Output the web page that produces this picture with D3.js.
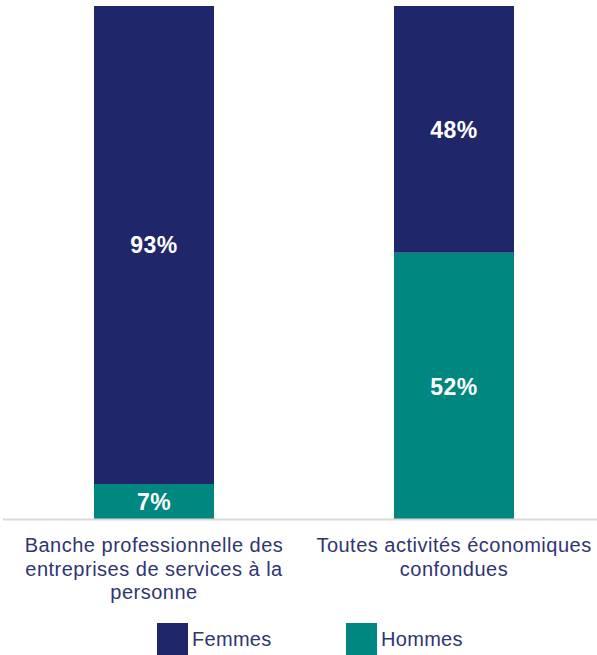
<!DOCTYPE html>
<html lang="fr">
<head>
  <meta charset="UTF-8">
  <title>Femmes / Hommes</title>
  <style>
    body { margin: 0; background: #fff; }
    svg { display: block; font-family: "Liberation Sans", Arial, sans-serif; }
  </style>
</head>
<body>
<div class="chart"></div>
<script src="https://cdn.jsdelivr.net/npm/d3@7"></script>
<script>
  // données
  let categories = [
    ['Banche professionnelle des', 'entreprises de services à la', 'personne'],
    ['Toutes activités économiques', 'confondues']
  ]
  let femmes = [93, 48]
  let hommes = [7, 52]
  let seriesNames = ['Femmes', 'Hommes']
  let colors = ['#20266a', '#00877f']

  let width = 597
  let height = 655
  let plotTop = 6
  let plotBottom = 520

  let svg = d3.select('.chart').append('svg').attr('width', width).attr('height', height)

  let xScale = d3.scaleBand()
    .domain(d3.range(categories.length))
    .range([4, 604])
    .paddingInner(0.6)
    .paddingOuter(0.3)

  let yScale = d3.scaleLinear().domain([0, 100]).range([plotBottom, plotTop])

  let rows = categories.map((c, i) => ({ i: i, Hommes: hommes[i], Femmes: femmes[i] }))
  let stack = d3.stack().keys(['Hommes', 'Femmes'])(rows)

  // barres
  let layer = svg.selectAll('.layer').data(stack).enter().append('g')
    .attr('class', 'layer')
    .attr('fill', d => d.key === 'Femmes' ? colors[0] : colors[1])

  layer.selectAll('rect').data(d => d).enter().append('rect')
    .attr('x', d => xScale(d.data.i))
    .attr('width', xScale.bandwidth())
    .attr('y', d => yScale(d[1]))
    .attr('height', d => yScale(d[0]) - yScale(d[1]))

  // valeurs
  layer.selectAll('text').data(d => d).enter().append('text')
    .attr('x', d => xScale(d.data.i) + xScale.bandwidth() / 2)
    .attr('y', d => (yScale(d[0]) + yScale(d[1])) / 2)
    .attr('dy', '0.36em')
    .attr('text-anchor', 'middle')
    .attr('fill', '#fff')
    .style('font-size', '23px')
    .style('font-weight', 'bold')
    .style('letter-spacing', '0.5px')
    .text(d => (d[1] - d[0]) + '%')

  // axe
  svg.append('line')
    .attr('x1', 3).attr('x2', 597)
    .attr('y1', yScale(0) - 0.5).attr('y2', yScale(0) - 0.5)
    .attr('stroke', '#d9d9d9')
    .attr('stroke-width', 2)

  // étiquettes
  let labels = svg.selectAll('.cat').data(categories).enter().append('text')
    .attr('class', 'cat')
    .attr('text-anchor', 'middle')
    .attr('fill', '#2f3573')
    .style('font-size', '20px')
    .style('letter-spacing', '0.5px')
  labels.selectAll('tspan').data((d, i) => d.map(t => ({ t: t, i: i }))).enter().append('tspan')
    .attr('x', d => xScale(d.i) + xScale.bandwidth() / 2)
    .attr('y', (d, j) => 552 + j * 23.5)
    .text(d => d.t)

  // légende
  let legendX = [157, 346]
  let legend = svg.selectAll('.legend').data(seriesNames).enter().append('g')
    .attr('class', 'legend')
    .attr('transform', (d, i) => 'translate(' + legendX[i] + ',623)')
  legend.append('rect')
    .attr('width', 31).attr('height', 32)
    .attr('fill', (d, i) => colors[i])
  legend.append('text')
    .attr('x', 35).attr('y', 23)
    .attr('fill', '#2f3573')
    .style('font-size', '20px')
    .style('letter-spacing', '0.3px')
    .text(d => d)
</script>
</body>
</html>
